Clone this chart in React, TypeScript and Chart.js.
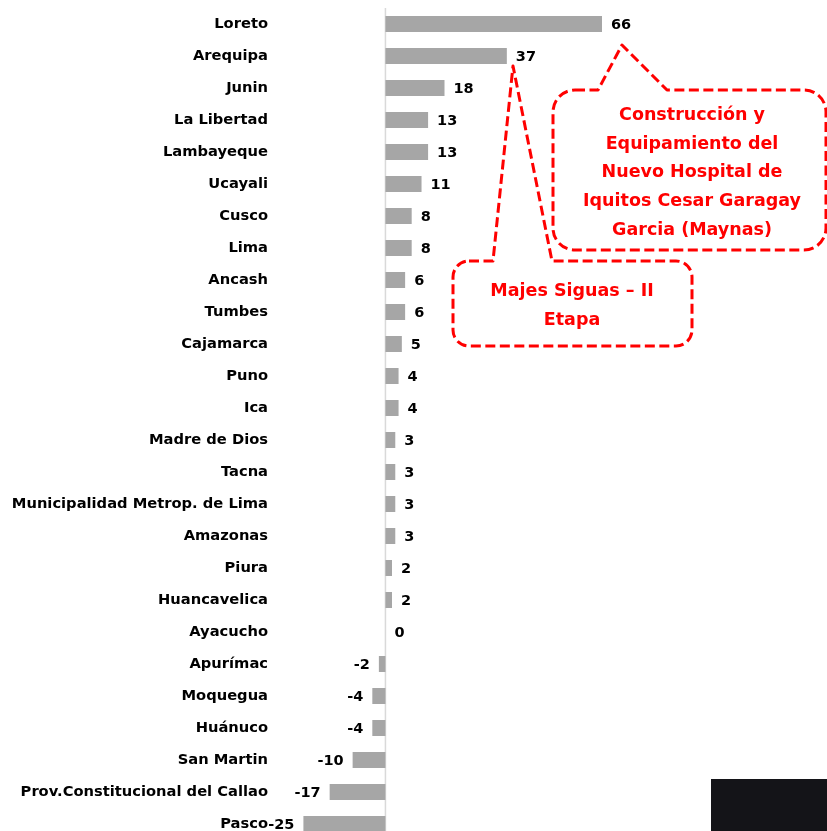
import React, { useEffect, useRef } from "react";
import { Chart, registerables } from "chart.js";

Chart.register(...registerables);

const categories = [
  "Loreto", "Arequipa", "Junin", "La Libertad", "Lambayeque", "Ucayali", "Cusco", "Lima",
  "Ancash", "Tumbes", "Cajamarca", "Puno", "Ica", "Madre de Dios", "Tacna",
  "Municipalidad Metrop. de Lima", "Amazonas", "Piura", "Huancavelica", "Ayacucho",
  "Apurímac", "Moquegua", "Huánuco", "San Martin", "Prov.Constitucional del Callao", "Pasco",
];
const values = [66, 37, 18, 13, 13, 11, 8, 8, 6, 6, 5, 4, 4, 3, 3, 3, 3, 2, 2, 0, -2, -4, -4, -10, -17, -25];

const calloutHospital = [
  "Construcción y",
  "Equipamiento del",
  "Nuevo Hospital de",
  "Iquitos Cesar Garagay",
  "Garcia (Maynas)",
];
const calloutMajes = ["Majes Siguas – II", "Etapa"];

const FONT = "'DejaVu Sans', sans-serif";

function calloutPath(
  ctx: CanvasRenderingContext2D,
  x1: number, y1: number, x2: number, y2: number, r: number,
  b1: number, tx: number, ty: number, b2: number
) {
  ctx.beginPath();
  ctx.moveTo(x1 + r, y1);
  ctx.lineTo(b1, y1);
  ctx.lineTo(tx, ty);
  ctx.lineTo(b2, y1);
  ctx.lineTo(x2 - r, y1);
  ctx.arcTo(x2, y1, x2, y1 + r, r);
  ctx.lineTo(x2, y2 - r);
  ctx.arcTo(x2, y2, x2 - r, y2, r);
  ctx.lineTo(x1 + r, y2);
  ctx.arcTo(x1, y2, x1, y2 - r, r);
  ctx.lineTo(x1, y1 + r);
  ctx.arcTo(x1, y1, x1 + r, y1, r);
  ctx.closePath();
}

const overlayPlugin = {
  id: "overlay",
  beforeDatasetsDraw(chart: any) {
    const { ctx, chartArea, scales } = chart;
    const x0 = scales.x.getPixelForValue(0);
    ctx.save();
    ctx.strokeStyle = "#d9d9d9";
    ctx.lineWidth = 1.5;
    ctx.beginPath();
    ctx.moveTo(x0, chartArea.top);
    ctx.lineTo(x0, chartArea.bottom);
    ctx.stroke();

    // category labels
    ctx.font = `bold 14.7px ${FONT}`;
    ctx.fillStyle = "#000000";
    ctx.textBaseline = "middle";
    ctx.textAlign = "right";
    categories.forEach((c, i) => {
      ctx.fillText(c, 268, scales.y.getPixelForValue(i) + 0.5);
    });
    ctx.restore();
  },
  afterDatasetsDraw(chart: any) {
    const { ctx } = chart;
    const meta = chart.getDatasetMeta(0);
    ctx.save();
    ctx.font = `bold 14.5px ${FONT}`;
    ctx.fillStyle = "#000000";
    ctx.textBaseline = "middle";
    meta.data.forEach((bar: any, i: number) => {
      const v = values[i];
      if (v < 0) {
        ctx.textAlign = "right";
        ctx.fillText(String(v), bar.x - 9, bar.y + 1);
      } else {
        ctx.textAlign = "left";
        ctx.fillText(String(v), bar.x + 9, bar.y + 1);
      }
    });

    // callouts
    ctx.strokeStyle = "#ff0000";
    ctx.lineWidth = 3;
    ctx.setLineDash([10, 4.5]);
    ctx.lineJoin = "round";
    calloutPath(ctx, 553, 90, 826, 250, 22, 598, 622, 45, 667);
    ctx.stroke();
    calloutPath(ctx, 453, 261, 692, 346, 16, 493, 513, 66, 552);
    ctx.stroke();
    ctx.setLineDash([]);

    ctx.fillStyle = "#ff0000";
    ctx.font = `bold 17.5px ${FONT}`;
    ctx.textAlign = "center";
    const ys = [115, 144, 172, 201, 230];
    calloutHospital.forEach((t, i) => ctx.fillText(t, 692, ys[i]));
    const ys2 = [291, 320];
    calloutMajes.forEach((t, i) => ctx.fillText(t, 572, ys2[i]));

    ctx.fillStyle = "#141418";
    ctx.fillRect(711, 779, 120, 80);
    ctx.restore();
  },
};

export default function App() {
  const ref = useRef<HTMLCanvasElement | null>(null);
  useEffect(() => {
    if (!ref.current) return;
    const chart = new Chart(ref.current, {
      type: "bar",
      data: {
        labels: categories,
        datasets: [
          {
            data: values,
            backgroundColor: "#a6a6a6",
            borderWidth: 0,
            barPercentage: 0.5,
            categoryPercentage: 1,
          },
        ],
      },
      options: {
        indexAxis: "y",
        responsive: false,
        animation: false,
        layout: { padding: { top: 8, bottom: 8, left: 287, right: 15 } },
        plugins: { legend: { display: false }, tooltip: { enabled: false } },
        scales: {
          x: { display: false, min: -30, max: 130 },
          y: { display: false },
        },
      },
      plugins: [overlayPlugin],
    });
    return () => chart.destroy();
  }, []);
  return (
    <div style={{ position: "fixed", left: 0, top: 0, width: 827, height: 831, overflow: "hidden", background: "#fff" }}>
      <canvas ref={ref} width={827} height={848} style={{ display: "block" }} />
    </div>
  );
}
